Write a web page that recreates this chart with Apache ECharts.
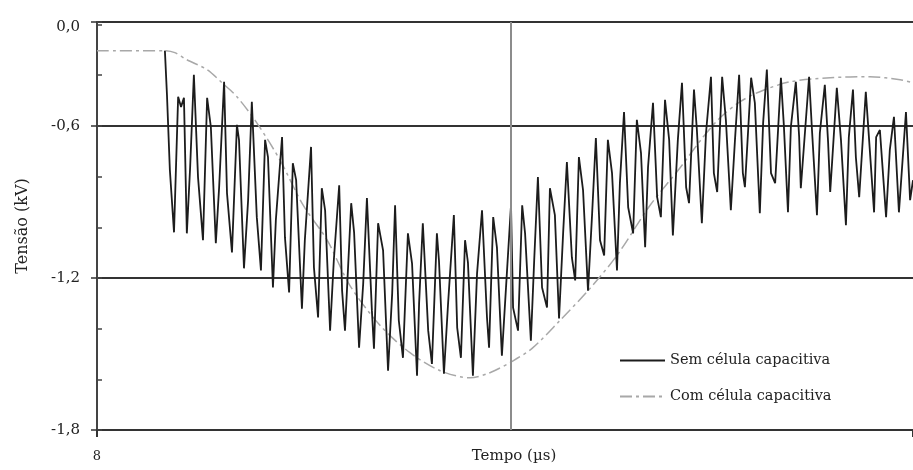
<!DOCTYPE html>
<html>
<head>
<meta charset="utf-8">
<script src="https://cdn.jsdelivr.net/npm/echarts@6/dist/echarts.min.js"></script>
<style>
  html, body { margin: 0; padding: 0; background: #fff; }
  #chart { width: 913px; height: 470px; }
</style>
</head>
<body>
<div id="chart"></div>
<script>
// tempo (µs) e tensão (kV)
const semTempo = [
  8.164, 8.169, 8.176, 8.186, 8.196, 8.203, 8.210, 8.217, 8.225, 8.234,
  8.244, 8.256, 8.266, 8.275, 8.287, 8.295, 8.307, 8.314, 8.326, 8.338,
  8.343, 8.355, 8.365, 8.374, 8.386, 8.396, 8.406, 8.413, 8.425, 8.432,
  8.447, 8.454, 8.464, 8.473, 8.481, 8.495, 8.502, 8.517, 8.524, 8.534,
  8.543, 8.551, 8.563, 8.572, 8.585, 8.592, 8.599, 8.614, 8.621, 8.633,
  8.643, 8.652, 8.664, 8.669, 8.679, 8.691, 8.703, 8.713, 8.720, 8.729,
  8.739, 8.751, 8.761, 8.773, 8.778, 8.787, 8.800, 8.809, 8.821, 8.826,
  8.838, 8.848, 8.862, 8.870, 8.879, 8.889, 8.896, 8.908, 8.918, 8.930,
  8.942, 8.947, 8.957, 8.966, 8.978, 8.990, 9.000, 9.005, 9.017, 9.027,
  9.034, 9.048, 9.056, 9.065, 9.075, 9.087, 9.094, 9.106, 9.116, 9.126,
  9.135, 9.147, 9.155, 9.164, 9.174, 9.186, 9.196, 9.205, 9.215, 9.225,
  9.234, 9.244, 9.256, 9.263, 9.273, 9.283, 9.295, 9.304, 9.314, 9.324,
  9.331, 9.343, 9.353, 9.362, 9.372, 9.382, 9.391, 9.403, 9.413, 9.423,
  9.430, 9.442, 9.449, 9.461, 9.471, 9.483, 9.490, 9.498, 9.510, 9.519,
  9.531, 9.541, 9.551, 9.560, 9.565, 9.580, 9.589, 9.601, 9.609, 9.618,
  9.628, 9.638, 9.652, 9.659, 9.669, 9.676, 9.688, 9.696, 9.700, 9.720,
  9.727, 9.739, 9.746, 9.758, 9.766, 9.771, 9.787, 9.797, 9.809, 9.816,
  9.826, 9.833, 9.841, 9.857, 9.865, 9.877, 9.882, 9.891, 9.906, 9.915,
  9.925, 9.937, 9.954, 9.964, 9.971
];
const semTensao = [
  -0.303, -0.477, -0.774, -1.020, -0.485, -0.525, -0.489, -1.024, -0.762, -0.398,
  -0.802, -1.051, -0.489, -0.604, -1.063, -0.842, -0.426, -0.865, -1.099, -0.596,
  -0.655, -1.162, -0.893, -0.505, -0.960, -1.170, -0.655, -0.723, -1.238, -0.972,
  -0.644, -1.040, -1.257, -0.747, -0.814, -1.321, -1.051, -0.683, -1.158, -1.356,
  -0.846, -0.933, -1.408, -1.131, -0.834, -1.250, -1.408, -0.905, -1.020, -1.475,
  -1.222, -0.885, -1.329, -1.479, -0.984, -1.091, -1.566, -1.261, -0.913, -1.368,
  -1.515, -1.024, -1.143, -1.586, -1.301, -0.984, -1.408, -1.539, -1.024, -1.131,
  -1.578, -1.301, -0.952, -1.396, -1.515, -1.051, -1.139, -1.586, -1.182, -0.933,
  -1.356, -1.475, -0.960, -1.079, -1.507, -1.182, -0.913, -1.317, -1.408, -0.913,
  -1.024, -1.448, -1.131, -0.802, -1.238, -1.317, -0.846, -0.952, -1.360, -1.020,
  -0.743, -1.119, -1.210, -0.723, -0.853, -1.250, -0.945, -0.648, -1.051, -1.111,
  -0.655, -0.786, -1.170, -0.826, -0.545, -0.921, -1.024, -0.576, -0.707, -1.079,
  -0.762, -0.509, -0.881, -0.960, -0.497, -0.655, -1.032, -0.655, -0.430, -0.842,
  -0.905, -0.457, -0.616, -0.984, -0.628, -0.406, -0.786, -0.861, -0.406, -0.576,
  -0.933, -0.655, -0.398, -0.786, -0.842, -0.410, -0.509, -0.945, -0.588, -0.378,
  -0.786, -0.826, -0.410, -0.596, -0.941, -0.604, -0.426, -0.644, -0.846, -0.406,
  -0.616, -0.952, -0.628, -0.438, -0.667, -0.861, -0.450, -0.655, -0.992, -0.644,
  -0.457, -0.723, -0.881, -0.465, -0.655, -0.941, -0.644, -0.616, -0.960, -0.695,
  -0.564, -0.941, -0.545, -0.893, -0.814
];

const comTempo = [
  8.000, 8.164, 8.188, 8.217, 8.266, 8.302, 8.338, 8.386, 8.442, 8.498,
  8.556, 8.611, 8.684, 8.756, 8.829, 8.901, 8.949, 9.005, 9.053, 9.118,
  9.186, 9.256, 9.336, 9.408, 9.464, 9.505, 9.553, 9.601, 9.674, 9.771,
  9.867, 9.940, 9.971
];
const comTensao = [
  -0.303, -0.303, -0.311, -0.339, -0.378, -0.430, -0.485, -0.588, -0.735, -0.913,
  -1.051, -1.230, -1.388, -1.495, -1.566, -1.594, -1.574, -1.527, -1.475, -1.368,
  -1.250, -1.111, -0.913, -0.766, -0.644, -0.568, -0.505, -0.465, -0.426, -0.410,
  -0.406, -0.418, -0.430
];

const yTicks = [-1.8, -1.2, -0.6];
const dividerX = 9;

const serif = '"DejaVu Serif", "Liberation Serif", serif';

const chart = echarts.init(document.getElementById('chart'));

const yRange = { min: -1.8, max: -0.19 };
const plotLeft = 97;
const plotWidth = 913 - plotLeft;

const option = {
  animation: false,
  backgroundColor: '#fff',
  grid: {
    left: plotLeft,
    right: 0,
    top: 22,
    bottom: 40,
    containLabel: false,
    outerBoundsMode: 'none'
  },
  legend: {
    orient: 'vertical',
    left: 614,
    top: 348,
    itemWidth: 45,
    itemHeight: 14,
    itemGap: 21,
    itemStyle: { opacity: 0 },
    textStyle: { fontFamily: serif, fontSize: 14.5, color: '#222' },
    data: ['Sem célula capacitiva', 'Com célula capacitiva']
  },
  xAxis: {
    type: 'value',
    min: 8,
    max: 9.971,
    interval: 2,
    name: 'Tempo (µs)',
    nameLocation: 'middle',
    nameGap: 19,
    nameMoveOverlap: false,
    nameTextStyle: {
      fontFamily: serif, fontSize: 15, color: '#222',
      padding: [0, 0, 0, 18]
    },
    axisLine: { show: true, lineStyle: { color: '#333', width: 2 } },
    axisTick: { show: true, length: 7, lineStyle: { color: '#333', width: 2 } },
    axisLabel: {
      fontFamily: serif, fontSize: 13, color: '#222', margin: 20,
      formatter: function (v) { return v === 8 ? '8' : ''; }
    },
    splitLine: { show: false }
  },
  yAxis: [
    {
      type: 'value',
      min: yRange.min,
      max: yRange.max,
      interval: 0.6,
      name: 'Tensão (kV)',
      nameLocation: 'middle',
      nameGap: 66,
      nameMoveOverlap: false,
      nameTextStyle: { fontFamily: serif, fontSize: 16, color: '#222' },
      axisLine: { show: true, lineStyle: { color: '#444', width: 2 } },
      axisTick: { show: true, length: 6, lineStyle: { color: '#333', width: 1.5 } },
      axisLabel: {
        fontFamily: serif, fontSize: 15, color: '#222', margin: 17,
        formatter: function (v) {
          if (v > -0.3) return '{top|0,0}';
          return yTicks.indexOf(Math.round(v * 10) / 10) >= 0
            ? v.toFixed(1).replace('.', ',') : '';
        },
        rich: {
          top: { fontFamily: serif, fontSize: 15, color: '#222', padding: [10, 0, 0, 0] }
        }
      },
      splitLine: { show: true, lineStyle: { color: '#333', width: 2 } }
    },
    {
      // marcas menores voltadas para dentro do gráfico
      type: 'value',
      position: 'right',
      offset: -plotWidth,
      min: yRange.min,
      max: yRange.max,
      interval: 0.2,
      axisLine: { show: false },
      axisTick: { show: true, length: 5, lineStyle: { color: '#444', width: 1.5 } },
      axisLabel: { show: false },
      splitLine: { show: false }
    }
  ],
  series: [
    {
      name: 'Sem célula capacitiva',
      type: 'line',
      data: semTempo.map((t, i) => [t, semTensao[i]]),
      symbol: 'none',
      z: 3,
      lineStyle: { color: '#1c1c1c', width: 1.8 },
      itemStyle: { color: '#1c1c1c' },
      markLine: {
        silent: true,
        symbol: 'none',
        label: { show: false },
        lineStyle: { color: '#8c8c8c', width: 2, type: 'solid' },
        data: [{ xAxis: dividerX }]
      }
    },
    {
      name: 'Com célula capacitiva',
      type: 'line',
      data: comTempo.map((t, i) => [t, comTensao[i]]),
      symbol: 'none',
      smooth: 0.3,
      z: 2,
      lineStyle: { color: '#a8a8a8', width: 1.5, type: [12, 4, 3, 4] },
      itemStyle: { color: '#a8a8a8' }
    }
  ]
};

chart.setOption(option);
</script>
</body>
</html>
